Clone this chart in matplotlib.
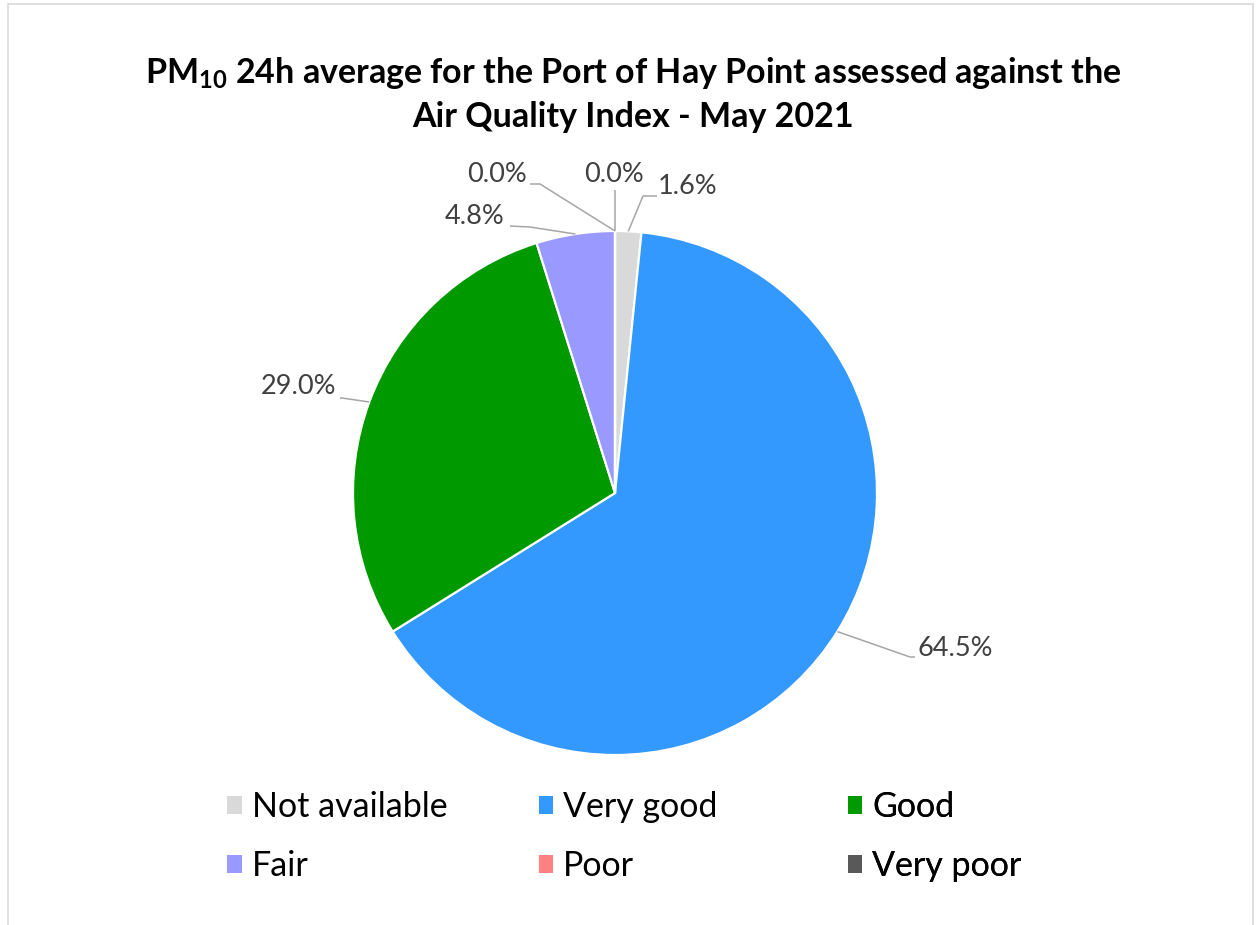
import matplotlib.pyplot as plt
from matplotlib.patches import Rectangle
import numpy as np

plt.rcParams["font.family"] = ["Lato", "DejaVu Sans"]
plt.rcParams["mathtext.fontset"] = "custom"
plt.rcParams["mathtext.bf"] = "Lato:bold"
plt.rcParams["mathtext.rm"] = "Lato"

categories = ["Not available", "Very good", "Good", "Fair", "Poor", "Very poor"]
days = [1, 40, 18, 3, 0, 0]
colors = ["#D9D9D9", "#3399FF", "#009900", "#9999FF", "#FF8080", "#595959"]

# label text centre and leader elbow/end, in figure pixels (y down)
label_text = [(688, 186), (955, 648), (298, 386), (475, 216), (614, 174), (497, 175)]
label_line = [
    [(643, 196), (657, 196)],
    [(910, 657), (915, 657)],
    [(342, 398), (340, 398)],
    [(530, 227), (510, 226)],
    [(615, 190)],
    [(540, 184), (530, 184)],
]

W, H = 1256, 925
fig = plt.figure(figsize=(W / 100, H / 100), dpi=100)
ax = fig.add_axes([0, 0, 1, 1])
ax.set_xlim(0, W)
ax.set_ylim(0, H)
ax.set_aspect("equal")
ax.axis("off")

cx, cy, r = 615, H - 493, 262
wedges, _ = ax.pie(days, colors=colors, center=(cx, cy), radius=r,
                   startangle=90, counterclock=False,
                   wedgeprops=dict(edgecolor="white", linewidth=1.6))
ax.set_xlim(0, W)
ax.set_ylim(0, H)

total = sum(days)
cum = np.cumsum([0] + days)
for i, v in enumerate(days):
    mid = (cum[i] + cum[i + 1]) / 2 / total
    ang = np.deg2rad(90 - mid * 360)
    ax0, ay0 = cx + r * np.cos(ang), cy + r * np.sin(ang)
    xs = [ax0] + [p[0] for p in label_line[i]]
    ys = [ay0] + [H - p[1] for p in label_line[i]]
    ax.plot(xs, ys, color="#A6A6A6", lw=1.1, solid_capstyle="butt")
    tx, ty = label_text[i]
    ax.text(tx, H - ty, f"{v / total * 100:.1f}%", ha="center", va="center",
            fontsize=19.5, color="#404040")

ax.text(W / 2 + 5, H - 94,
        "$\\mathbf{PM_{10}}$ 24h average for the Port of Hay Point assessed against the\n"
        "Air Quality Index - May 2021",
        ha="center", va="center", fontsize=24.5, fontweight="bold",
        color="black", linespacing=1.42)

# legend: three columns, two rows
col_x = [0.181, 0.429, 0.675]
for c in range(3):
    idx = [c, c + 3]
    leg = ax.legend([wedges[i] for i in idx], [categories[i] for i in idx],
                    loc="upper left", bbox_to_anchor=(col_x[c], 1 - 791 / H),
                    frameon=False, fontsize=24.5, handlelength=0.42,
                    handleheight=0.42, handletextpad=0.3, labelspacing=0.8,
                    borderpad=0, borderaxespad=0)
    for h in leg.legend_handles:
        h.set_edgecolor("none")
    ax.add_artist(leg)

ax.add_patch(Rectangle((8, -20), 1245, H - 4 + 20, fill=False,
                       edgecolor="#D9D9D9", lw=1.2, clip_on=False))

fig.savefig("out.png", dpi=100)
